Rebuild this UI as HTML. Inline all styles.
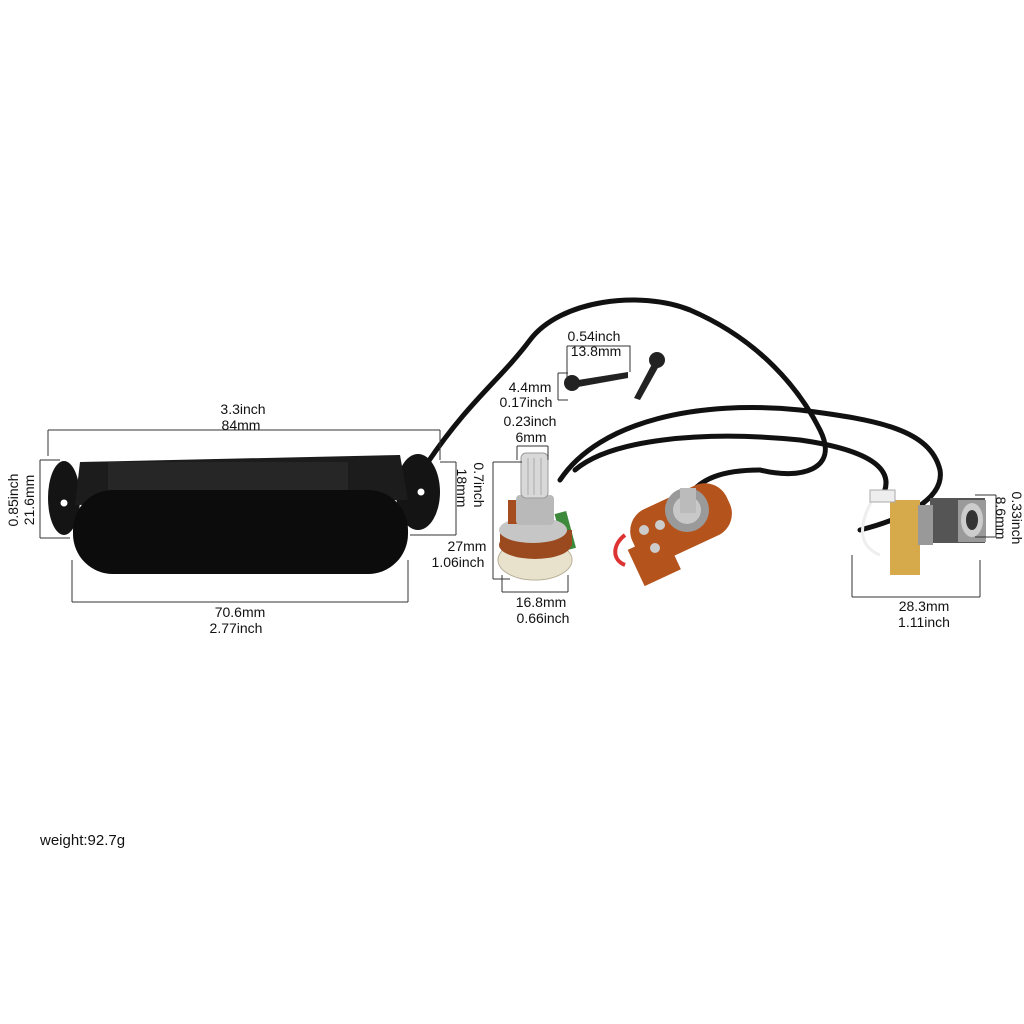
<!DOCTYPE html>
<html><head><meta charset="utf-8"><style>
html,body{margin:0;padding:0;background:#fff;}
svg{display:block;}
text{font-family:"Liberation Sans",sans-serif;font-size:14px;fill:#111;}
</style></head><body>
<svg width="1024" height="1024" viewBox="0 0 1024 1024">
<!-- cables -->
<g fill="none" stroke="#111" stroke-width="5" stroke-linecap="round">
<path d="M428 462 C470 400 500 380 530 340 C560 300 640 290 690 310 C760 340 800 390 820 430 C840 470 800 480 760 470"/>
<path d="M560 480 C600 420 700 400 800 410 C880 420 930 430 940 470 C945 500 900 520 860 530"/>
<path d="M575 470 C610 440 700 430 800 440 C870 450 900 470 880 500"/>
<path d="M760 470 C720 470 700 480 690 495"/>
</g>
<!-- pickup -->
<ellipse cx="64" cy="498" rx="16" ry="37" fill="#141414"/>
<ellipse cx="418" cy="492" rx="22" ry="38" fill="#141414"/>
<circle cx="64" cy="503" r="3.5" fill="#fff"/>
<circle cx="421" cy="492" r="3.5" fill="#fff"/>
<path d="M80 462 L400 455 L408 500 L75 505 Z" fill="#1c1c1c"/>
<rect x="108" y="462" width="240" height="28" fill="#262626"/>
<rect x="73" y="490" width="335" height="84" rx="40" fill="#0c0c0c"/>
<!-- pickup dims -->
<g stroke="#333" stroke-width="1" fill="none">
<path d="M48 430H440M48 430V456M440 430V460"/>
<path d="M40 460V538M40 460H60M40 538H70"/>
<path d="M72 602H408M72 560V602M408 560V602"/>
<path d="M456 462V535M440 462H456M410 535H456"/>
</g>
<text x="243" y="414" text-anchor="middle">3.3inch</text>
<text x="241" y="430" text-anchor="middle">84mm</text>
<text x="240" y="617" text-anchor="middle">70.6mm</text>
<text x="236" y="633" text-anchor="middle">2.77inch</text>
<text transform="translate(18,500) rotate(-90)" text-anchor="middle">0.85inch</text>
<text transform="translate(34,500) rotate(-90)" text-anchor="middle">21.6mm</text>
<text transform="translate(474,485) rotate(90)" text-anchor="middle">0.7inch</text>
<text transform="translate(457,488) rotate(90)" text-anchor="middle">18mm</text>
<!-- screws -->
<g fill="#222">
<circle cx="572" cy="383" r="8"/>
<path d="M578 380L628 372L628 378L578 387Z"/>
<circle cx="657" cy="360" r="8"/>
<path d="M652 364L634 398L640 400L659 366Z"/>
</g>
<g stroke="#333" stroke-width="1" fill="none">
<path d="M567 346H630V372M567 346V378"/>
<path d="M558 373V400M558 373H568M558 400H568"/>
</g>
<text x="594" y="341" text-anchor="middle">0.54inch</text>
<text x="596" y="356" text-anchor="middle">13.8mm</text>
<text x="530" y="392" text-anchor="middle">4.4mm</text>
<text x="526" y="407" text-anchor="middle">0.17inch</text>
<!-- pot 1 -->
<rect x="559" y="512" width="12" height="38" fill="#3d8a3d" transform="rotate(-15 565 530)"/>
<ellipse cx="535" cy="560" rx="37" ry="20" fill="#e8e2cc" stroke="#b8b09a"/>
<ellipse cx="535" cy="545" rx="36" ry="14" fill="#9b4a1f"/>
<rect x="500" y="530" width="72" height="16" fill="#9b4a1f"/>
<ellipse cx="533" cy="530" rx="34" ry="13" fill="#c6c6c6"/>
<rect x="508" y="500" width="24" height="24" fill="#a54d1f"/>
<rect x="516" y="495" width="38" height="30" rx="4" fill="#b9b9b9"/>
<rect x="521" y="453" width="27" height="45" rx="5" fill="#d8d8d8" stroke="#9a9a9a"/>
<path d="M528 458V495M534 458V495M541 458V495" stroke="#aaa"/>
<g stroke="#333" stroke-width="1" fill="none">
<path d="M517 446H548M517 446V460M548 446V460"/>
<path d="M502 592H568M502 575V592M568 575V592"/>
<path d="M493 462V579M493 462H522M493 579H510"/>
</g>
<text x="530" y="426" text-anchor="middle">0.23inch</text>
<text x="531" y="442" text-anchor="middle">6mm</text>
<text x="467" y="551" text-anchor="middle">27mm</text>
<text x="458" y="567" text-anchor="middle">1.06inch</text>
<text x="541" y="607" text-anchor="middle">16.8mm</text>
<text x="543" y="623" text-anchor="middle">0.66inch</text>
<!-- pot 2 -->
<path d="M625 535 C612 545 612 560 625 565" stroke="#d33" stroke-width="4" fill="none"/>
<g transform="rotate(-25 680 520)">
<rect x="628" y="495" width="104" height="55" rx="24" fill="#b5531d"/>
<rect x="620" y="525" width="40" height="40" fill="#b5531d"/>
</g>
<circle cx="687" cy="510" r="22" fill="#9a9a9a"/>
<circle cx="687" cy="510" r="14" fill="#c8c8c8"/>
<rect x="680" y="488" width="16" height="25" fill="#bbb"/>
<circle cx="644" cy="530" r="5" fill="#ccc"/><circle cx="660" cy="525" r="5" fill="#ccc"/><circle cx="655" cy="548" r="5" fill="#ccc"/>
<!-- jack -->
<path d="M875 495 C860 520 855 545 880 555" stroke="#eee" stroke-width="3" fill="none"/>
<rect x="890" y="500" width="30" height="75" fill="#d6a94a"/>
<rect x="870" y="490" width="25" height="12" fill="#eee" stroke="#aaa"/>
<rect x="930" y="498" width="55" height="45" fill="#555"/>
<rect x="918" y="505" width="15" height="40" fill="#999"/>
<rect x="958" y="500" width="28" height="42" fill="#9a9a9a"/>
<ellipse cx="972" cy="520" rx="11" ry="17" fill="#ccc"/>
<ellipse cx="972" cy="520" rx="6" ry="10" fill="#333"/>
<g stroke="#333" stroke-width="1" fill="none">
<path d="M852 597H980M852 555V597M980 560V597"/>
<path d="M996 495V537M975 495H996M975 537H996"/>
</g>
<text x="924" y="611" text-anchor="middle">28.3mm</text>
<text x="924" y="627" text-anchor="middle">1.11inch</text>
<text transform="translate(1012,518) rotate(90)" text-anchor="middle">0.33inch</text>
<text transform="translate(996,518) rotate(90)" text-anchor="middle">8.6mm</text>
<text x="40" y="845" style="font-size:15px">weight:92.7g</text>
</svg>
</body></html>
